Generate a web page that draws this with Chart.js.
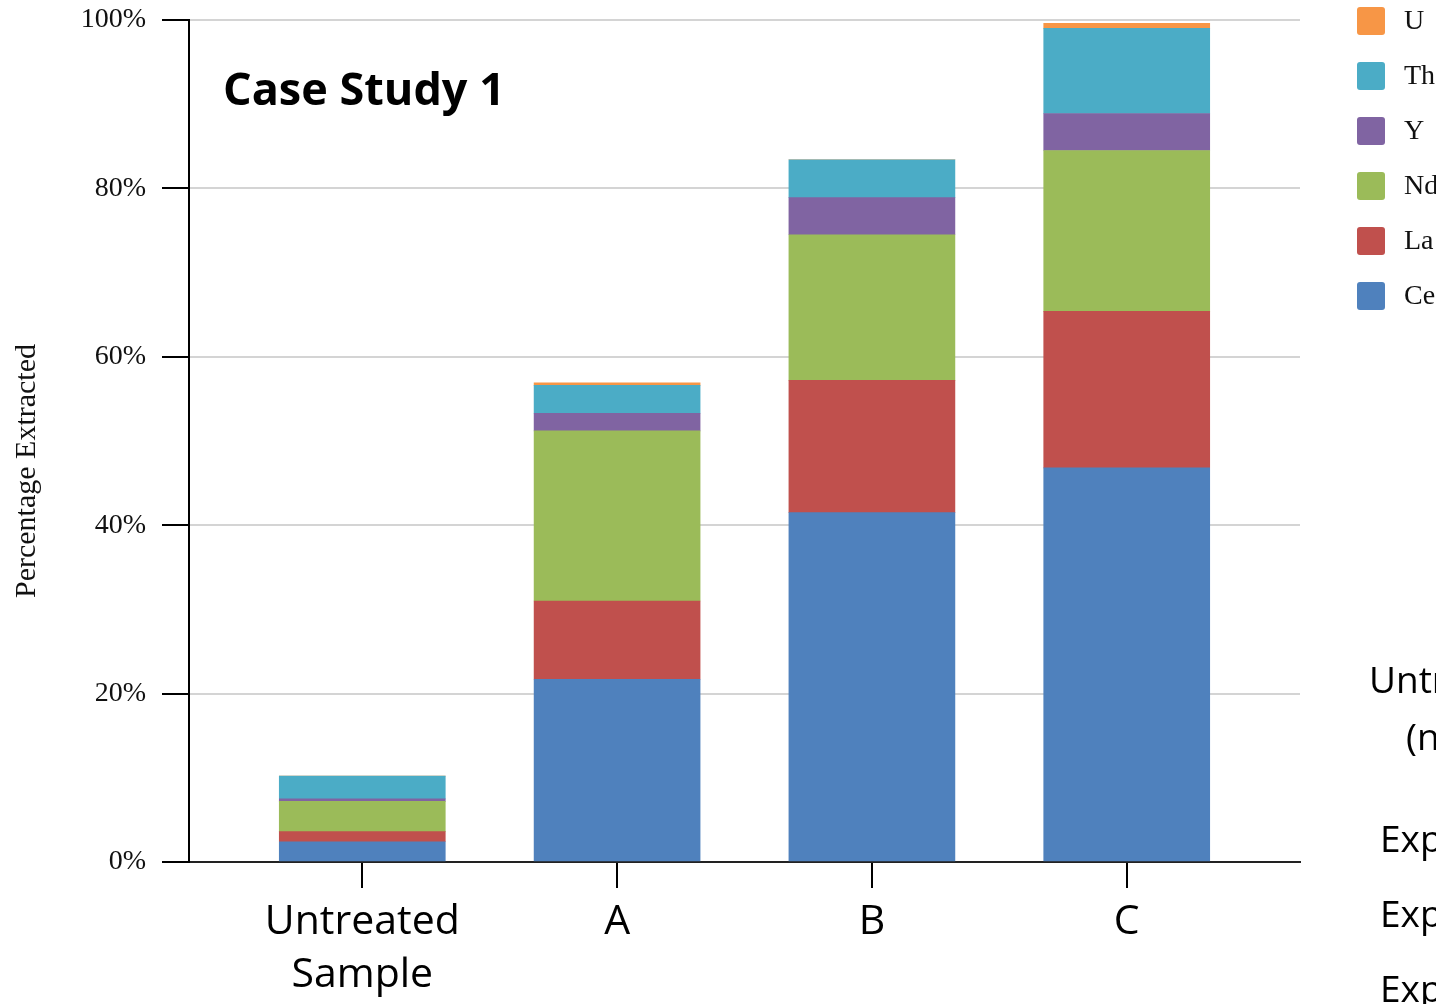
<!DOCTYPE html>
<html>
<head>
<meta charset="utf-8">
<script src="https://cdn.jsdelivr.net/npm/chart.js@4.4.0/dist/chart.umd.min.js"></script>
<style>
  html, body { margin: 0; padding: 0; background: #fff; overflow: hidden; }
  canvas { display: block; }
</style>
</head>
<body>
<canvas id="chart" width="1436" height="1004"></canvas>
<script>
// categories along the x axis
var categories = [['Untreated', 'Sample'], 'A', 'B', 'C'];

// percentage extracted per element (stacked bottom to top)
var ceValues = [2.4, 21.7, 41.5, 46.8];
var laValues = [1.2, 9.3, 15.7, 18.6];
var ndValues = [3.6, 20.2, 17.3, 19.1];
var yValues = [0.3, 2.1, 4.4, 4.4];
var thValues = [2.7, 3.3, 4.5, 10.1];
var uValues = [0, 0.3, 0, 0.6];

var yTicks = [0, 20, 40, 60, 80, 100];

function points(values) {
    return values.map(function (v, i) { return {x: i, y: v}; });
}

var series = [
    {label: 'Ce', values: ceValues, color: '#4f81bd'},
    {label: 'La', values: laValues, color: '#c0504d'},
    {label: 'Nd', values: ndValues, color: '#9bbb59'},
    {label: 'Y', values: yValues, color: '#8064a2'},
    {label: 'Th', values: thValues, color: '#4bacc6'},
    {label: 'U', values: uValues, color: '#f79646'}
];

// legend + loose texts, drawn after the chart
var extras = {
    id: 'extras',
    afterDraw: function (chart) {
        var ctx = chart.ctx;
        ctx.save();

        // legend, top entry is the last dataset
        var sets = chart.data.datasets.slice().reverse();
        ctx.font = '28px "Liberation Serif"';
        ctx.textBaseline = 'middle';
        ctx.textAlign = 'left';
        sets.forEach(function (ds, i) {
            var top = 7 + i * 55;
            ctx.fillStyle = ds.backgroundColor;
            ctx.beginPath();
            ctx.roundRect(1357, top, 28, 28, 3);
            ctx.fill();
            ctx.fillStyle = '#111';
            ctx.fillText(ds.label, 1404, top + 15);
        });

        // title inside plot
        ctx.fillStyle = '#000';
        ctx.textBaseline = 'alphabetic';
        ctx.font = 'bold 45px "Open Sans"';
        ctx.fillText('Case Study 1', 223, 105);

        // cut-off text at the right edge
        ctx.font = '37px "Open Sans"';
        ctx.fillText('Untreated', 1369, 693);
        ctx.fillText('(no treatment)', 1406, 750);
        ctx.fillText('Experiment A', 1380, 852);
        ctx.fillText('Experiment B', 1380, 927);
        ctx.fillText('Experiment C', 1380, 1002);

        // y axis title
        ctx.translate(27, 471);
        ctx.rotate(-Math.PI / 2);
        ctx.textAlign = 'center';
        ctx.textBaseline = 'middle';
        ctx.fillStyle = '#111';
        ctx.font = '30px "Liberation Serif"';
        ctx.fillText('Percentage Extracted', 0, 0);

        ctx.restore();
    }
};

new Chart(document.getElementById('chart'), {
    type: 'bar',
    data: {
        datasets: series.map(function (s) {
            return {
                label: s.label,
                data: points(s.values),
                backgroundColor: s.color,
                borderWidth: 0,
                barThickness: 166
            };
        })
    },
    options: {
        responsive: false,
        animation: false,
        layout: {padding: {left: 0, right: 136, top: 20, bottom: 0}},
        plugins: {
            legend: {display: false},
            tooltip: {enabled: false}
        },
        scales: {
            x: {
                type: 'linear',
                stacked: true,
                offset: false,
                min: -0.68,
                max: 3.68,
                afterBuildTicks: function (scale) {
                    scale.ticks = categories.map(function (c, i) { return {value: i}; });
                },
                afterFit: function (scale) {
                    scale.height = 142;
                    scale.paddingLeft = 0;
                    scale.paddingRight = 0;
                },
                ticks: {
                    autoSkip: false,
                    maxRotation: 0,
                    padding: 8,
                    color: '#000',
                    font: {family: 'Open Sans', size: 41, lineHeight: 53 / 41},
                    callback: function (v) { return categories[v]; }
                },
                grid: {
                    offset: false,
                    drawOnChartArea: false,
                    tickLength: 26,
                    tickColor: '#000',
                    lineWidth: 2
                },
                border: {color: '#222', width: 2}
            },
            y: {
                stacked: true,
                min: 0,
                max: 100,
                afterBuildTicks: function (scale) {
                    scale.ticks = yTicks.map(function (v) { return {value: v}; });
                },
                afterFit: function (scale) {
                    scale.width = 189;
                    scale.paddingTop = 0;
                    scale.paddingBottom = 0;
                },
                ticks: {
                    padding: 16,
                    color: '#111',
                    font: {family: 'Liberation Serif', size: 28},
                    callback: function (v) { return v + '%'; }
                },
                grid: {
                    color: function (c) { return c.tick && c.tick.value === 0 ? '#222' : '#d4d4d4'; },
                    lineWidth: 2,
                    tickLength: 27,
                    tickColor: '#000'
                },
                border: {color: '#000', width: 2}
            }
        }
    },
    plugins: [extras]
});
</script>
</body>
</html>
